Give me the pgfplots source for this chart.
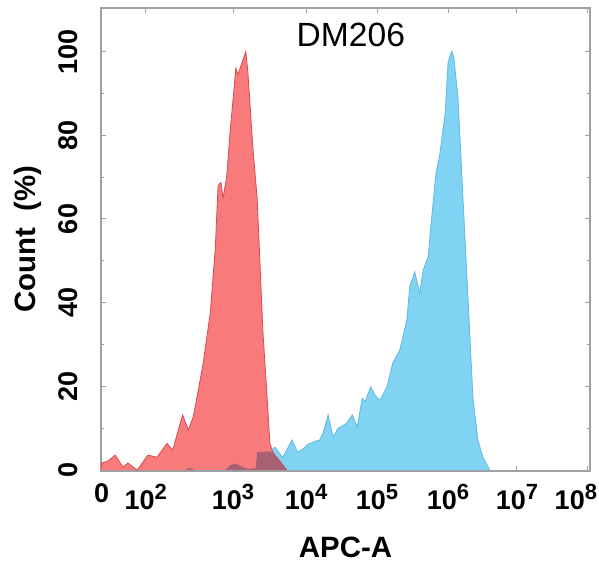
\documentclass[border=0pt]{standalone}
\usepackage{fontspec}
\setmainfont{Liberation Sans}
\usepackage{pgfplots}
\pgfplotsset{compat=1.18}
\definecolor{redfill}{RGB}{249,122,122}
\definecolor{redline}{RGB}{215,75,80}
\definecolor{bluefill}{RGB}{128,211,242}
\definecolor{blueline}{RGB}{95,185,225}
\definecolor{mauve}{RGB}{168,96,116}
\definecolor{axisgray}{RGB}{160,160,160}
\newcommand\sx[1]{10\raisebox{5.2pt}{\fontsize{11}{11}\selectfont\bfseries #1}}
\begin{document}
\begin{tikzpicture}
\begin{axis}[
  scale only axis, width=244.5pt, height=231.5pt,
  xmin=0, xmax=6.89, ymin=-0.2, ymax=110.4,
  axis line style={draw=axisgray, line width=0.6pt},
  xtick={0.01,0.63,1.86,2.89,3.89,4.89,5.86},
  xticklabels={0,\sx{2},\sx{3},\sx{4},\sx{5},\sx{6},\sx{7}},
  extra x ticks={6.86},
  extra x tick labels={\sx{8}},
  extra x tick style={xticklabel style={xshift=-6pt}},
  ytick={0,20,40,60,80,100},
  yticklabels={0,20,40,60,80,100},
  minor y tick num=1,
  tick style={axisgray, line width=0.5pt},
  major tick length=2.5pt, minor tick length=1.5pt,
  tick align=inside,
  ticklabel style={font=\fontsize{13.5}{14}\selectfont\bfseries},
  yticklabel style={rotate=90, anchor=south, yshift=8pt},
  xticklabel style={anchor=north, yshift=-3pt},
  xlabel={APC-A}, ylabel={Count~~(\%)},
  label style={font=\fontsize{14.7}{15}\selectfont\bfseries},
  xlabel style={at={(axis description cs:0.5,-0.166)}, anchor=center},
  ylabel style={at={(axis description cs:-0.149,0.5)}, anchor=center},
]
% blue (APC positive)
\addplot[fill=bluefill, draw=blueline, line width=0.4pt] coordinates {
(1.18,0) (1.25,0.6) (1.32,0) (1.75,0) (1.82,1.2) (1.90,1.6) (1.99,0.8) (2.07,0.3)
(2.18,0.5) (2.20,4.3) (2.38,4.5) (2.45,5.5) (2.56,3.0) (2.69,7.2) (2.77,4.3)
(2.84,5.0) (2.90,6.0) (2.94,6.4) (3.08,7.2) (3.13,8.9) (3.20,13.2) (3.27,7.9)
(3.34,10.0) (3.46,11.2) (3.54,13.2) (3.61,10.3) (3.68,17.2) (3.72,16.3) (3.80,19.9)
(3.86,17.9) (3.93,16.7) (4.03,19.9) (4.11,25.6) (4.21,28.7) (4.31,35.9) (4.35,43.8)
(4.42,47.4) (4.49,42.3) (4.54,47.8) (4.61,51.0) (4.66,60.5) (4.72,71.0) (4.77,75.0)
(4.85,85.4) (4.89,97.4) (4.94,100) (4.97,98.8) (5.03,89.0) (5.10,65.0) (5.17,41.4)
(5.24,17.5) (5.31,7.2) (5.38,3.1) (5.48,0)
};
% red (control)
\addplot[fill=redfill, draw=redline, line width=0.4pt] coordinates {
(0.0,0) (0.01,1.7) (0.10,2.2) (0.20,3.6) (0.31,0.7) (0.38,1.7) (0.51,0) (0.66,3.6)
(0.79,3.1) (0.93,6.4) (1.01,4.8) (1.15,13.2) (1.23,9.6) (1.30,12.7) (1.37,19.0)
(1.44,25.6) (1.54,37.6) (1.61,53.0) (1.65,68.0) (1.69,68.7) (1.72,65.0) (1.77,70.0)
(1.82,81.0) (1.90,96.0) (1.93,94.5) (2.00,98.0) (2.04,100) (2.07,95.0) (2.14,77.0)
(2.20,65.0) (2.24,49.5) (2.28,33.5) (2.34,17.5) (2.38,6.4) (2.42,4.3) (2.48,3.0)
(2.62,0)
};
% overlap of both
\addplot[fill=mauve, draw=none] coordinates {
(1.18,0) (1.25,0.6) (1.32,0)
};
\addplot[fill=mauve, draw=none] coordinates {
(1.75,0) (1.82,1.2) (1.90,1.6) (1.99,0.8) (2.07,0.3) (2.18,0.5) (2.20,4.3)
(2.38,4.5) (2.42,4.3) (2.48,3.0) (2.62,0)
};
\node[font=\fontsize{16.8}{17}\selectfont] at (axis description cs:0.511,0.942) {DM206};
\coordinate (bl) at (rel axis cs:0,0);
\coordinate (tr) at (rel axis cs:1,1);
\end{axis}
\pgfresetboundingbox
\path[use as bounding box] ([shift={(-50.5pt,-46pt)}]bl) rectangle ([shift={(4.5pt,4pt)}]tr);
\end{tikzpicture}
\end{document}
